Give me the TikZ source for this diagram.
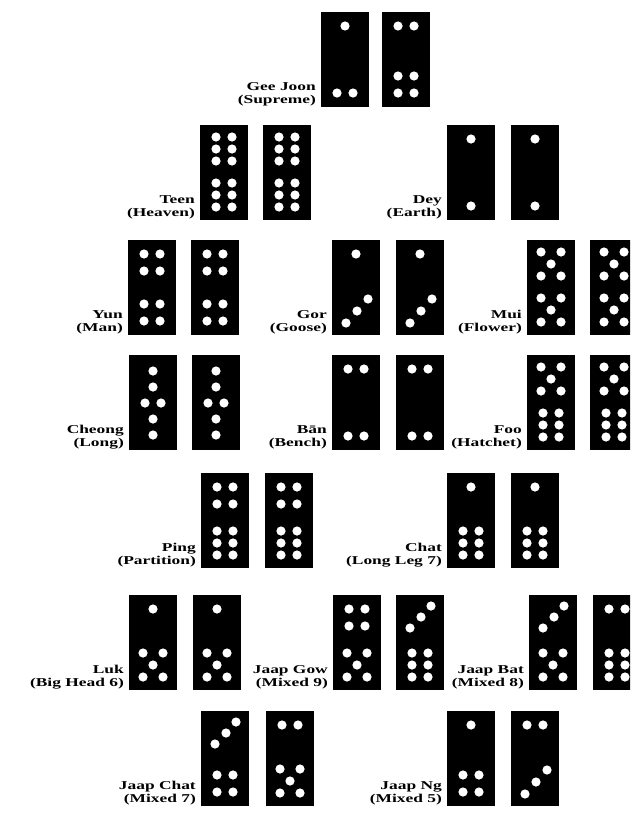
\documentclass[tikz,border=0pt]{standalone}
\usepackage{fontspec}
\setmainfont{Liberation Serif}[FakeStretch=1.45]
\tikzset{
  tile/.style={fill=black, draw=none, inner sep=0pt, minimum width=48pt, minimum height=95pt, anchor=north west},
  pip/.style={fill=white},
  lbl/.style={anchor=south east, inner sep=0pt, align=right, font=\fontsize{12}{13}\selectfont\bfseries}
}
% top-half pip patterns
\def\tI{(24,14)}
\def\tII{(16,14),(32,14)}
\def\tIII{(35,11),(25,22),(14,33)}
\def\tIV{(16,14),(32,14),(16,31),(32,31)}
\def\tV{(14,12),(34,12),(24,24),(14,36),(34,36)}
\def\tVI{(16,12),(32,12),(16,24),(32,24),(16,36),(32,36)}
% bottom-half pip patterns
\def\bI{(24,81)}
\def\bII{(16,81),(32,81)}
\def\bIII{(36,59),(25,71),(14,83)}
\def\bIV{(16,64),(32,64),(16,81),(32,81)}
\def\bV{(14,58),(34,58),(24,70),(14,82),(34,82)}
\def\bVI{(16,58),(32,58),(16,70),(32,70),(16,82),(32,82)}
\def\cIII{(24,16),(24,32),(16,48),(32,48),(24,64),(24,80)}
\newcommand\dtile[5]{%
  \node[tile] (#1) at (#2,#3) {};
  \edef\piplist{#4,#5}%
  \begin{scope}[shift={(#2,#3)}]
    \foreach \p in \piplist {\fill[pip] \p circle (4.6pt);}
  \end{scope}}
\newcommand\dtilec[4]{%
  \node[tile] (#1) at (#2,#3) {};
  \edef\piplist{#4}%
  \begin{scope}[shift={(#2,#3)}]
    \foreach \p in \piplist {\fill[pip] \p circle (4.6pt);}
  \end{scope}}
\begin{document}
\begin{tikzpicture}[x=1pt,y=-1pt]
\path[use as bounding box] (0,0) rectangle (630,814);
\clip (0,0) rectangle (630,814);
\fill[white] (0,0) rectangle (630,814);
% Row 1
\dtile{gjA}{321}{12}{\tI}{\bII}
\dtile{gjB}{382}{12}{\tII}{\bIV}
\node[lbl] (lgj) at (316,106) {Gee Joon\\(Supreme)};
% Row 2
\dtile{teenA}{200}{125}{\tVI}{\bVI}
\dtile{teenB}{263}{125}{\tVI}{\bVI}
\node[lbl] (lteen) at (195,219) {Teen\\(Heaven)};
\dtile{deyA}{447}{125}{\tI}{\bI}
\dtile{deyB}{511}{125}{\tI}{\bI}
\node[lbl] (ldey) at (442,219) {Dey\\(Earth)};
% Row 3
\dtile{yunA}{128}{240}{\tIV}{\bIV}
\dtile{yunB}{191}{240}{\tIV}{\bIV}
\node[lbl] (lyun) at (123,334) {Yun\\(Man)};
\dtile{gorA}{332}{240}{\tI}{\bIII}
\dtile{gorB}{396}{240}{\tI}{\bIII}
\node[lbl] (lgor) at (327,334) {Gor\\(Goose)};
\dtile{muiA}{527}{240}{\tV}{\bV}
\dtile{muiB}{590}{240}{\tV}{\bV}
\node[lbl] (lmui) at (522,334) {Mui\\(Flower)};
% Row 4
\dtilec{chA}{129}{355}{\cIII}
\dtilec{chB}{192}{355}{\cIII}
\node[lbl] (lch) at (124,449) {Cheong\\(Long)};
\dtile{banA}{332}{355}{\tII}{\bII}
\dtile{banB}{396}{355}{\tII}{\bII}
\node[lbl] (lban) at (327,449) {Bān\\(Bench)};
\dtile{fooA}{527}{355}{\tV}{\bVI}
\dtile{fooB}{590}{355}{\tV}{\bVI}
\node[lbl] (lfoo) at (522,449) {Foo\\(Hatchet)};
% Row 5
\dtile{pingA}{201}{473}{\tIV}{\bVI}
\dtile{pingB}{265}{473}{\tIV}{\bVI}
\node[lbl] (lping) at (196,567) {Ping\\(Partition)};
\dtile{chatA}{447}{473}{\tI}{\bVI}
\dtile{chatB}{511}{473}{\tI}{\bVI}
\node[lbl] (lchat) at (442,567) {Chat\\(Long Leg 7)};
% Row 6
\dtile{lukA}{129}{595}{\tI}{\bV}
\dtile{lukB}{193}{595}{\tI}{\bV}
\node[lbl] (lluk) at (124,689) {Luk\\(Big Head 6)};
\dtile{jgA}{333}{595}{\tIV}{\bV}
\dtile{jgB}{396}{595}{\tIII}{\bVI}
\node[lbl] (ljg) at (328,689) {Jaap Gow\\(Mixed 9)};
\dtile{jbA}{529}{595}{\tIII}{\bV}
\dtile{jbB}{593}{595}{\tII}{\bVI}
\node[lbl] (ljb) at (524,689) {Jaap Bat\\(Mixed 8)};
% Row 7
\dtile{jcA}{201}{711}{\tIII}{\bIV}
\dtile{jcB}{266}{711}{\tII}{\bV}
\node[lbl] (ljc) at (196,805) {Jaap Chat\\(Mixed 7)};
\dtile{jnA}{447}{711}{\tI}{\bIV}
\dtile{jnB}{511}{711}{\tII}{\bIII}
\node[lbl] (ljn) at (442,805) {Jaap Ng\\(Mixed 5)};
\end{tikzpicture}
\end{document}
